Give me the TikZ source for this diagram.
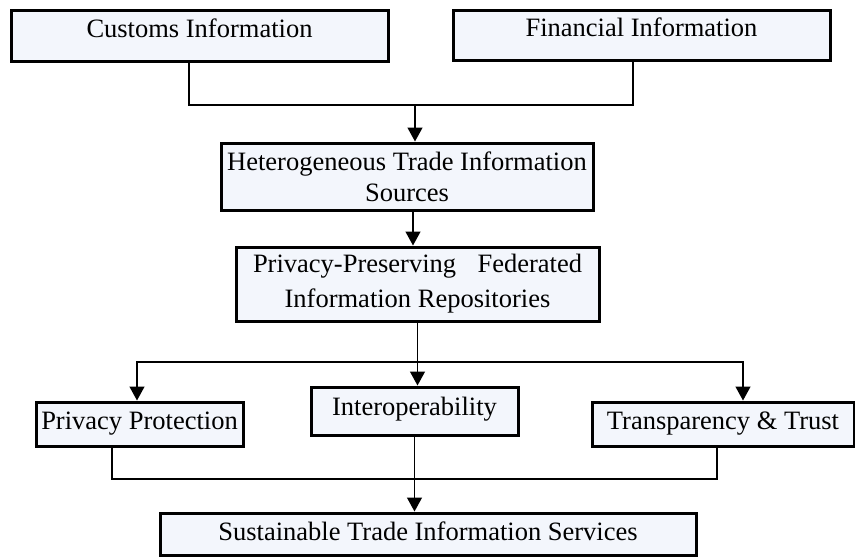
\documentclass[tikz,border=0pt]{standalone}
\usepackage{fontspec}
\setmainfont{Liberation Serif}
\usetikzlibrary{arrows.meta}
\definecolor{boxfill}{HTML}{F3F6FC}
\begin{document}
\begin{tikzpicture}[
    x=1pt, y=-1pt, % pixel-like units, y grows downwards
    infobox/.style={draw, fill=boxfill, line width=3pt, inner sep=0pt, align=center,
        font=\fontsize{26.5pt}{31pt}\selectfont},
    link/.style={line width=1.3pt},
    >={Triangle[width=15pt,length=14pt]}
]
\useasboundingbox (0,0) rectangle (855,557);

% Nodes
\node[infobox, minimum width=377pt, minimum height=51pt, text depth=15pt] (customs) at (199.5,35.5) {Customs Information};
\node[infobox, minimum width=377pt, minimum height=50pt, text depth=15pt] (financial) at (641.5,35) {Financial Information};
\node[infobox, minimum width=372pt, minimum height=67pt] (sources) at (407,176.5) {Heterogeneous Trade Information\\Sources};
\node[infobox, minimum width=363pt, minimum height=74pt, font=\fontsize{26.5pt}{35pt}\selectfont] (federated) at (417.5,284)
    {\makebox[329pt][s]{Privacy-Preserving Federated}\\Information Repositories};
\node[infobox, minimum width=207pt, minimum height=44pt, text depth=6pt] (privacy) at (139.5,424) {Privacy Protection};
\node[infobox, minimum width=207pt, minimum height=48pt, text depth=10pt] (interop) at (414.5,411) {Interoperability};
\node[infobox, minimum width=262pt, minimum height=44pt, text depth=6pt] (trust) at (723,424) {Transparency \& Trust};
\node[infobox, minimum width=536pt, minimum height=42pt, text depth=6pt] (services) at (428,534) {Sustainable Trade Information Services};

% Junctions
\coordinate (topjoin) at (415,105);
\coordinate (midjoin) at (418,362);
\coordinate (lowjoin) at (416,479);

% Edges
\draw[link] ([xshift=-10.5pt]customs.south) |- (topjoin) -| ([xshift=-8.5pt]financial.south);
\draw[link,->] (topjoin) -- (topjoin |- sources.north);
\draw[link,->] ([xshift=6pt]sources.south) -- ([xshift=6pt]sources.south |- federated.north);
\draw[link,->] (federated.south) -- (federated.south |- interop.north);
\draw[link,->] (midjoin) -| ([xshift=-2.5pt]privacy.north);
\draw[link,->] (midjoin) -| ([xshift=20pt]trust.north);
\draw[link] ([xshift=-27.5pt]privacy.south) |- (lowjoin) -| ([xshift=-6pt]trust.south);
\draw[link,->] (interop.south) -- (interop.south |- services.north);

\end{tikzpicture}
\end{document}
